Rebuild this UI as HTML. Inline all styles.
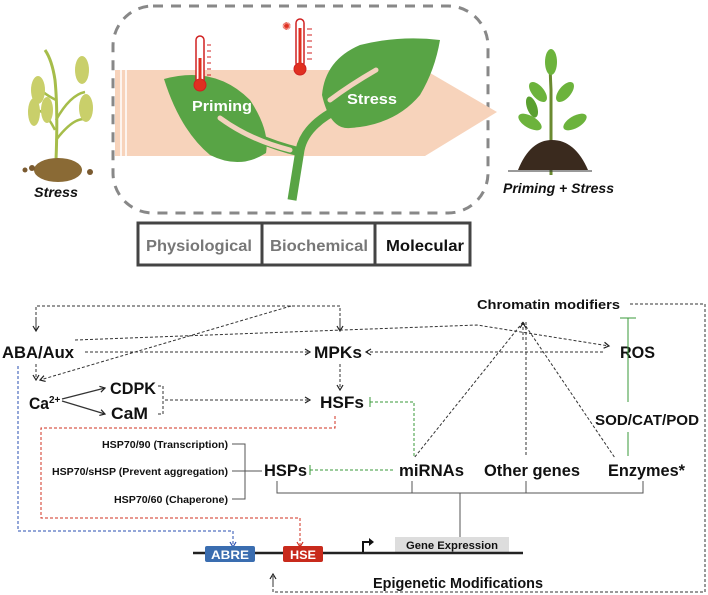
<!DOCTYPE html>
<html><head><meta charset="utf-8"><style>
html,body{margin:0;padding:0;background:#fff;}
svg{display:block;font-family:"Liberation Sans",sans-serif;}
.b{font-weight:bold;fill:#111;}
</style></head><body>
<svg width="708" height="595" viewBox="0 0 708 595" xmlns="http://www.w3.org/2000/svg">
<defs>
<marker id="ak" markerWidth="8" markerHeight="8" refX="6" refY="4" orient="auto" markerUnits="userSpaceOnUse"><path d="M1,1 L6,4 L1,7" fill="none" stroke="#222" stroke-width="1.2"/></marker>
<marker id="ab" markerWidth="8" markerHeight="8" refX="6" refY="4" orient="auto" markerUnits="userSpaceOnUse"><path d="M1,1 L6,4 L1,7" fill="none" stroke="#2a4fb0" stroke-width="1.2"/></marker>
<marker id="ar" markerWidth="8" markerHeight="8" refX="6" refY="4" orient="auto" markerUnits="userSpaceOnUse"><path d="M1,1 L6,4 L1,7" fill="none" stroke="#d03020" stroke-width="1.2"/></marker>
</defs>

<!-- TOP -->
<rect x="113" y="6" width="375" height="207" rx="40" fill="none" stroke="#888" stroke-width="3" stroke-dasharray="10,8"/>
<path d="M115,70 L425,70 L497,112 L425,156 L115,156 Z" fill="#f7d3bb"/>
<line x1="121" y1="70" x2="121" y2="156" stroke="#fff" stroke-width="1.5"/>
<line x1="126" y1="70" x2="126" y2="156" stroke="#fff" stroke-width="1.5"/>
<path d="M292,200 L300,150 Q305,125 340,108 L375,72" fill="none" stroke="#58a445" stroke-width="9"/>
<path d="M300,152 Q270,145 240,130" fill="none" stroke="#58a445" stroke-width="9"/>
<path d="M164,79 Q215,65 250,100 Q270,130 266,153 Q240,170 210,155 Q180,130 164,79 Z" fill="#58a445"/>
<path d="M220,118 Q250,140 290,150" fill="none" stroke="#f3d2bd" stroke-width="5" stroke-linecap="round"/>
<path d="M440,40 Q400,35 360,45 Q325,60 322,95 Q330,130 350,128 Q395,125 420,95 Q435,70 440,40 Z" fill="#58a445"/>
<path d="M376,70 Q350,85 330,100" fill="none" stroke="#f3d2bd" stroke-width="5" stroke-linecap="round"/>
<text x="192" y="111" fill="#fff" font-weight="bold" font-size="15" textLength="60" lengthAdjust="spacingAndGlyphs">Priming</text>
<text x="347" y="104" fill="#fff" font-weight="bold" font-size="15" textLength="50" lengthAdjust="spacingAndGlyphs">Stress</text>
<rect x="196" y="36" width="8" height="48" rx="4" fill="#fff" stroke="#d02020" stroke-width="1.5"/>
<circle cx="200" cy="85" r="6" fill="#e03020" stroke="#d02020"/>
<rect x="198.5" y="58" width="3" height="26" fill="#e03020"/>
<g stroke="#d02020" stroke-width="1"><line x1="207" y1="45" x2="211" y2="45"/><line x1="207" y1="51" x2="211" y2="51"/><line x1="207" y1="57" x2="211" y2="57"/><line x1="207" y1="63" x2="211" y2="63"/><line x1="207" y1="69" x2="211" y2="69"/><line x1="207" y1="75" x2="211" y2="75"/></g>
<rect x="296" y="19" width="8" height="48" rx="4" fill="#fff" stroke="#d02020" stroke-width="1.5"/>
<circle cx="300" cy="69" r="6" fill="#e03020" stroke="#d02020"/>
<rect x="298.5" y="28" width="3" height="40" fill="#e03020"/>
<g stroke="#d02020" stroke-width="1"><line x1="307" y1="29" x2="312" y2="29"/><line x1="307" y1="35" x2="312" y2="35"/><line x1="307" y1="41" x2="312" y2="41"/><line x1="307" y1="47" x2="312" y2="47"/><line x1="307" y1="53" x2="312" y2="53"/><line x1="307" y1="59" x2="312" y2="59"/></g>
<text x="282" y="30" fill="#e03020" font-size="11">✺</text>

<rect x="138" y="223" width="332" height="42" fill="#fff" stroke="#444" stroke-width="3"/>
<line x1="262" y1="223" x2="262" y2="265" stroke="#444" stroke-width="3"/>
<line x1="375" y1="223" x2="375" y2="265" stroke="#444" stroke-width="3"/>
<text x="146" y="251" fill="#777" font-weight="bold" font-size="16" textLength="106" lengthAdjust="spacingAndGlyphs">Physiological</text>
<text x="270" y="251" fill="#777" font-weight="bold" font-size="16" textLength="98" lengthAdjust="spacingAndGlyphs">Biochemical</text>
<text x="386" y="251" fill="#111" font-weight="bold" font-size="16" textLength="78" lengthAdjust="spacingAndGlyphs">Molecular</text>

<!-- left wilted plant -->
<path d="M56,160 Q58,110 55,80 Q52,60 45,50" fill="none" stroke="#a6bd4a" stroke-width="3"/>
<path d="M56,120 Q70,95 85,92 M56,100 Q40,92 38,85 M56,140 Q75,115 88,120 M55,130 Q45,110 36,110" fill="none" stroke="#a6bd4a" stroke-width="2.5"/>
<ellipse cx="38" cy="90" rx="7" ry="14" fill="#c9cf6a"/>
<ellipse cx="47" cy="110" rx="6" ry="13" fill="#c9cf6a"/>
<ellipse cx="34" cy="112" rx="6" ry="14" fill="#c9cf6a"/>
<ellipse cx="82" cy="70" rx="7" ry="14" fill="#c9cf6a"/>
<ellipse cx="86" cy="108" rx="7" ry="14" fill="#c9cf6a"/>
<ellipse cx="58" cy="170" rx="24" ry="12" fill="#8a6a35"/>
<circle cx="25" cy="170" r="2.5" fill="#7a5a30"/><circle cx="32" cy="168" r="3" fill="#7a5a30"/><circle cx="90" cy="172" r="3" fill="#7a5a30"/>
<text x="34" y="197" class="b" font-style="italic" font-size="14" textLength="44" lengthAdjust="spacingAndGlyphs">Stress</text>

<!-- right plant -->
<path d="M551,175 L551,90 Q550,70 550,55" fill="none" stroke="#6a8a30" stroke-width="3"/>
<ellipse cx="551" cy="62" rx="6" ry="13" fill="#6cb33c"/>
<ellipse cx="538" cy="92" rx="6" ry="12" fill="#6cb33c" transform="rotate(-40 538 92)"/>
<ellipse cx="565" cy="92" rx="6" ry="12" fill="#6cb33c" transform="rotate(40 565 92)"/>
<ellipse cx="530" cy="122" rx="6" ry="13" fill="#6cb33c" transform="rotate(-60 530 122)"/>
<ellipse cx="575" cy="122" rx="6" ry="13" fill="#6cb33c" transform="rotate(60 575 122)"/>
<ellipse cx="532" cy="107" rx="5" ry="11" fill="#5aa030" transform="rotate(-20 532 107)"/>
<path d="M518,170 Q530,140 552,140 Q575,140 588,170 Z" fill="#3a2a1e"/>
<line x1="508" y1="171" x2="592" y2="171" stroke="#333" stroke-width="1"/>
<text x="503" y="193" class="b" font-style="italic" font-size="14" textLength="111" lengthAdjust="spacingAndGlyphs">Priming + Stress</text>

<!-- BOTTOM -->
<g font-size="17" class="b">
<text x="477" y="309" font-size="13" textLength="143" lengthAdjust="spacingAndGlyphs">Chromatin modifiers</text>
<text x="2" y="358" textLength="72" lengthAdjust="spacingAndGlyphs">ABA/Aux</text>
<text x="314" y="358" textLength="48" lengthAdjust="spacingAndGlyphs">MPKs</text>
<text x="620" y="358" textLength="35" lengthAdjust="spacingAndGlyphs">ROS</text>
<text x="29" y="409" textLength="20" lengthAdjust="spacingAndGlyphs">Ca</text><text x="49" y="403" font-size="10">2+</text>
<text x="110" y="394" textLength="46" lengthAdjust="spacingAndGlyphs">CDPK</text>
<text x="111" y="419" textLength="37" lengthAdjust="spacingAndGlyphs">CaM</text>
<text x="320" y="408" textLength="44" lengthAdjust="spacingAndGlyphs">HSFs</text>
<text x="595" y="425" font-size="15" textLength="104" lengthAdjust="spacingAndGlyphs">SOD/CAT/POD</text>
<text x="264" y="476" textLength="43" lengthAdjust="spacingAndGlyphs">HSPs</text>
<text x="399" y="476" textLength="65" lengthAdjust="spacingAndGlyphs">miRNAs</text>
<text x="484" y="476" textLength="96" lengthAdjust="spacingAndGlyphs">Other genes</text>
<text x="608" y="476" textLength="77" lengthAdjust="spacingAndGlyphs">Enzymes*</text>
<text x="373" y="588" font-size="15" textLength="170" lengthAdjust="spacingAndGlyphs">Epigenetic Modifications</text>
</g>
<g font-size="10" class="b">
<text x="102" y="448" textLength="126" lengthAdjust="spacingAndGlyphs">HSP70/90   (Transcription)</text>
<text x="52" y="475" textLength="176" lengthAdjust="spacingAndGlyphs">HSP70/sHSP   (Prevent aggregation)</text>
<text x="114" y="503" textLength="114" lengthAdjust="spacingAndGlyphs">HSP70/60   (Chaperone)</text>
</g>

<g fill="none" stroke="#333" stroke-width="1" stroke-dasharray="3,2">
<path d="M36,330 L36,306 L340,306 L340,330" />
<line x1="36" y1="320" x2="36" y2="331" marker-end="url(#ak)"/>
<line x1="340" y1="320" x2="340" y2="331" marker-end="url(#ak)"/>
<line x1="291" y1="306" x2="40" y2="380" marker-end="url(#ak)"/>
<line x1="36" y1="364" x2="36" y2="380" marker-end="url(#ak)"/>
<path d="M75,340 L477,325 L609,346" marker-end="url(#ak)"/>
<line x1="85" y1="352" x2="310" y2="352" marker-end="url(#ak)"/>
<line x1="603" y1="352" x2="366" y2="352" marker-end="url(#ak)"/>
<line x1="340" y1="364" x2="340" y2="390" marker-end="url(#ak)"/>
<path d="M158,386 L163,386 L163,414 L158,414"/>
<line x1="165" y1="400" x2="310" y2="400" marker-end="url(#ak)"/>
<line x1="523" y1="322" x2="414" y2="458"/>
<line x1="523" y1="322" x2="615" y2="458"/>
<line x1="526" y1="322" x2="526" y2="456"/>
<line x1="523" y1="340" x2="523" y2="323" marker-end="url(#ak)"/>
<path d="M630,304 L705,304 L705,592 L273,592 L273,576" />
<line x1="273" y1="585" x2="273" y2="574" marker-end="url(#ak)"/>
</g>
<g stroke="#333" stroke-width="1.2" fill="none">
<line x1="62" y1="399" x2="105" y2="388" marker-end="url(#ak)"/>
<line x1="62" y1="401" x2="105" y2="414" marker-end="url(#ak)"/>
</g>
<path d="M18,366 L18,531 L233,531 L233,547" fill="none" stroke="#2a4fb0" stroke-width="1" stroke-dasharray="3,2" marker-end="url(#ab)"/>
<path d="M335,416 L335,428 L41,428 L41,518 L300,518 L300,547" fill="none" stroke="#d03020" stroke-width="1" stroke-dasharray="3,2" marker-end="url(#ar)"/>
<g stroke="#3a9a3a" stroke-width="1" fill="none">
<path d="M370,402 L414,402 L414,458" stroke-dasharray="3,2"/>
<line x1="370" y1="397" x2="370" y2="407"/>
<line x1="310" y1="470" x2="395" y2="470" stroke-dasharray="3,2"/>
<line x1="310" y1="465" x2="310" y2="475"/>
<line x1="628" y1="318" x2="628" y2="402"/>
<line x1="620" y1="318" x2="636" y2="318"/>
<line x1="628" y1="432" x2="628" y2="456"/>
</g>
<g stroke="#555" stroke-width="1" fill="none">
<path d="M232,444 L245,444 L245,499 L232,499"/>
<line x1="232" y1="471" x2="262" y2="471"/>
<path d="M277,481 L277,493 L643,493 L643,481"/>
<line x1="412" y1="481" x2="412" y2="493"/>
<line x1="526" y1="481" x2="526" y2="493"/>
<line x1="460" y1="493" x2="460" y2="537"/>
</g>
<rect x="395" y="537" width="114" height="15" fill="#ddd"/>
<text x="406" y="549" font-size="11" class="b" textLength="92" lengthAdjust="spacingAndGlyphs">Gene Expression</text>
<line x1="193" y1="553" x2="523" y2="553" stroke="#222" stroke-width="2.5"/>
<rect x="205" y="546" width="50" height="16" rx="2" fill="#3a6db0"/>
<text x="211" y="559" font-size="12" fill="#fff" font-weight="bold" textLength="38" lengthAdjust="spacingAndGlyphs">ABRE</text>
<rect x="283" y="546" width="40" height="16" rx="2" fill="#c82a1c"/>
<text x="290" y="559" font-size="12" fill="#fff" font-weight="bold" textLength="26" lengthAdjust="spacingAndGlyphs">HSE</text>
<path d="M363,552 L363,542 L371,542" fill="none" stroke="#111" stroke-width="2"/>
<path d="M369,538 L374,542 L369,546 Z" fill="#111"/>
</svg>
</body></html>
